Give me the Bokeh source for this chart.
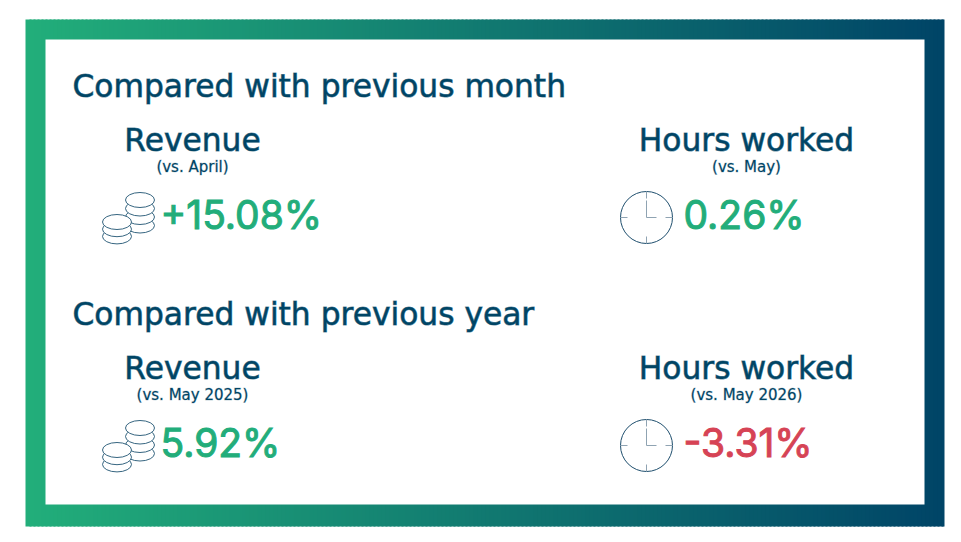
from bokeh.plotting import figure
from bokeh.embed import file_html
from bokeh.resources import INLINE
from bokeh.core.properties import value

section_titles = ["Compared with previous month", "Compared with previous year"]
metric_names = ["Revenue", "Hours worked"]
comparisons = [["(vs. April)", "(vs. May)"], ["(vs. May 2025)", "(vs. May 2026)"]]
change_labels = [["+15.08%", "0.26%"], ["5.92%", "-3.31%"]]
change_colors = [["#22ad7a", "#22ad7a"], ["#22ad7a", "#d64355"]]

NAVY = "#004565"
GREEN = (34, 174, 122)
BLUE = (0, 68, 103)

p = figure(width=961, height=542, x_range=(0, 961), y_range=(542, 0),
           output_backend="svg", toolbar_location=None, min_border=0,
           x_axis_location=None, y_axis_location=None, outline_line_color=None)
p.grid.visible = False
p.background_fill_color = "white"
p.border_fill_color = "white"

# gradient frame: each band overlaps the next so no seams show
edges = list(range(25, 944, 4)) + [944]
lefts, rights, cols = edges[:-1], [min(e + 2, 944) for e in edges[1:]], []
for a in lefts:
    t = (a - 25) / 919
    cols.append("#%02x%02x%02x" % tuple(round(g + (b - g) * t) for g, b in zip(GREEN, BLUE)))
p.quad(left=lefts, right=rights, top=19, bottom=526, fill_color=cols, line_color=None)
p.quad(left=[45], right=[924], top=[39], bottom=[504], fill_color="white", line_color=None)


def label(x, y, s, size, color=NAVY, align="left", font="DejaVu Sans", outline=None):
    p.text([x], [y - 0.43 * size], text=[s], text_font=value(font), text_font_size=f"{size}px",
           text_color=color, text_align=align, text_baseline="alphabetic",
           text_outline_color=outline)


def coins(dy):
    for cx, cy, n, gap in ((139.5, 199.5, 3, 8.5), (116.5, 221.5, 2, 7.2)):
        for i in range(n, -1, -1):
            p.ellipse([cx], [cy + i * gap + dy], width=29, height=15, fill_color="white",
                      line_color="#1f5472", line_width=0.9)


def clock(dy):
    cx, cy = 646, 217 + dy
    p.circle([cx], [cy], radius=26, fill_color="white", line_color="#1f4f6e", line_width=1)
    tick = "#8fa3b2"
    p.segment([cx, cx, cx - 26, cx + 19], [cy - 26, cy + 19, cy, cy],
              [cx, cx, cx - 19, cx + 26], [cy - 19, cy + 26, cy, cy], line_color=tick, line_width=1)
    p.segment([cx, cx], [cy - 17, cy], [cx, cx + 10], [cy, cy], line_color=tick, line_width=1)


for row, dy in enumerate((0, 228)):
    label(72, 98.5 + dy, section_titles[row], 31.3, outline="#00456599")
    for col, cx in enumerate((192, 746)):
        label(cx, 153 + dy, metric_names[col], 31.3, align="center", outline="#00456599")
        label(cx, 172.5 + dy, comparisons[row][col], 15, align="center", outline="#00456540")
    coins(dy)
    clock(dy)
    for col, x in enumerate((160, 683)):
        c = change_colors[row][col]
        label(x, 231 + dy, change_labels[row][col], 39, c, font="Inter", outline=c)

open("out.html", "w").write(file_html(p, INLINE))
